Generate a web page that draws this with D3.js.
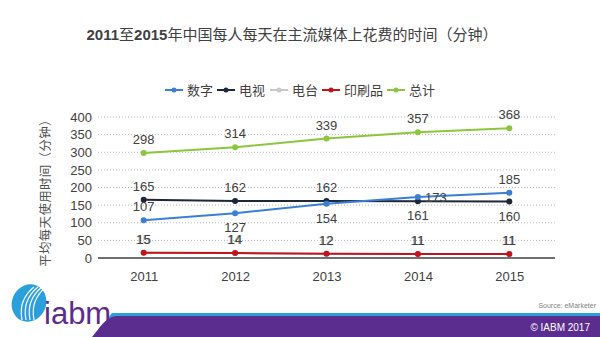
<!DOCTYPE html>
<html>
<head>
<meta charset="utf-8">
<script src="https://cdn.jsdelivr.net/npm/d3@7"></script>
<style>
  body { margin: 0; background: #fff; }
  svg { display: block; font-family: "Liberation Sans", Arial, "Noto Sans CJK SC", sans-serif; }
</style>
</head>
<body>
<svg id="chart" width="600" height="337"></svg>
<script>
const years = ["2011", "2012", "2013", "2014", "2015"];
const digital = [107, 127, 154, 173, 185];
const tv = [165, 162, 162, 161, 160];
const radio = [15, 14, 12, 11, 11];
const print = [15, 14, 12, 11, 11];
const total = [298, 314, 339, 357, 368];
const yTicks = [0, 50, 100, 150, 200, 250, 300, 350, 400];

// label placement per point: "up", "down", "right"
const series = [
    { name: "电台", values: radio, color: "#c8c8c8", labelColor: "#9a9a9a", pos: ["up", "up", "up", "up", "up"] },
    { name: "印刷品", values: print, color: "#c0141e", labelColor: "#404040", pos: ["up", "up", "up", "up", "up"] },
    { name: "电视", values: tv, color: "#1c2838", labelColor: "#404040", pos: ["up", "up", "up", "down", "down"] },
    { name: "数字", values: digital, color: "#3a7fd6", labelColor: "#404040", pos: ["up", "down", "down", "right", "up"] },
    { name: "总计", values: total, color: "#8cc63f", labelColor: "#404040", pos: ["up", "up", "up", "up", "up"] }
];
const legendOrder = ["数字", "电视", "电台", "印刷品", "总计"];

const svg = d3.select("#chart");
const margin = { left: 98, right: 45, top: 117, bottom: 79 };
const width = 600 - margin.left - margin.right;
const height = 337 - margin.top - margin.bottom;

const title = svg.append("text")
    .attr("x", 292).attr("y", 40)
    .attr("text-anchor", "middle")
    .attr("font-size", 15)
    .attr("fill", "#404040");
[["2011", "bold"], ["至", "normal"], ["2015", "bold"], ["年中国每人每天在主流媒体上花费的时间（分钟）", "normal"]]
    .forEach(([t, w]) => title.append("tspan").attr("font-weight", w).text(t));

const g = svg.append("g").attr("transform", `translate(${margin.left},${margin.top})`);

const x = d3.scalePoint().domain(years).range([0, width]).padding(0.5);
const y = d3.scaleLinear().domain([0, 400]).range([height, 0]);

g.selectAll(".grid").data(yTicks.filter(t => t > 0)).enter().append("line")
    .attr("x1", 0).attr("x2", width)
    .attr("y1", d => y(d)).attr("y2", d => y(d))
    .attr("stroke", "#b8b8b8").attr("stroke-width", 1)
    .attr("stroke-dasharray", "1,2");

const yAxis = g.append("g").call(d3.axisLeft(y).tickValues(yTicks).tickSize(0).tickPadding(6));
yAxis.select(".domain").remove();
yAxis.selectAll("text").attr("font-size", 13).attr("fill", "#404040");

const xAxis = g.append("g").attr("transform", `translate(0,${height})`)
    .call(d3.axisBottom(x).tickSize(0).tickPadding(14));
xAxis.select(".domain").attr("stroke", "#404040").attr("stroke-width", 1.5).attr("d", `M0,0H${width}`);
xAxis.selectAll("text").attr("font-size", 13).attr("fill", "#404040");

svg.append("text")
    .attr("transform", "translate(50,190) rotate(-90)")
    .attr("text-anchor", "middle")
    .attr("font-size", 12.5).attr("fill", "#505050")
    .attr("letter-spacing", 0.3)
    .attr("font-family", "Noto Sans CJK SC")
    .text("平均每天使用时间（分钟）");

const line = d3.line().x((d, i) => x(years[i])).y(d => y(d));

series.forEach(s => {
    g.append("path").attr("d", line(s.values))
        .attr("fill", "none").attr("stroke", s.color).attr("stroke-width", 2);
    g.selectAll(null).data(s.values).enter().append("circle")
        .attr("cx", (d, i) => x(years[i])).attr("cy", d => y(d))
        .attr("r", 3).attr("fill", s.color);
});

series.forEach(s => {
    g.selectAll(null).data(s.values).enter().append("text")
        .attr("x", (d, i) => x(years[i]) + (s.pos[i] === "right" ? 18 : 0) + (s.name === "电台" ? -1 : 0))
        .attr("y", (d, i) => {
            const p = s.pos[i];
            if (p === "up") return y(d) - 9;
            if (p === "down") return y(d) + 19;
            return y(d) + 5;
        })
        .attr("text-anchor", "middle")
        .attr("font-size", 13).attr("fill", s.labelColor)
        .text(d => d);
});

// legend
const legendX = [165, 217, 270, 322, 387];
const legend = svg.append("g").attr("transform", "translate(0,90)");
legendOrder.forEach((name, i) => {
    const s = series.find(d => d.name === name);
    const lg = legend.append("g").attr("transform", `translate(${legendX[i]},0)`);
    lg.append("line").attr("x1", 0).attr("x2", 18).attr("stroke", s.color).attr("stroke-width", 2);
    lg.append("circle").attr("cx", 9).attr("r", 2.5).attr("fill", s.color);
    lg.append("text").attr("x", 22).attr("y", 5)
        .attr("font-size", 13).attr("fill", "#404040")
        .attr("font-family", "Noto Sans CJK SC")
        .text(name);
});

// footer
svg.append("path")
    .attr("d", "M112,313 L600,313 L600,318 L108,318 Z")
    .attr("fill", "#2a9fdc");
svg.append("path")
    .attr("d", "M92,337 C100,328 104,318 116,316 L600,316 L600,337 Z")
    .attr("fill", "#5b2d8e");
svg.append("text")
    .attr("x", 590).attr("y", 331)
    .attr("text-anchor", "end")
    .attr("font-size", 10).attr("fill", "#fff")
    .text("© IABM 2017");
svg.append("text")
    .attr("x", 596).attr("y", 308)
    .attr("text-anchor", "end")
    .attr("font-size", 7).attr("fill", "#7f7f7f")
    .text("Source: eMarketer");

// logo
const logo = svg.append("g");
logo.append("ellipse").attr("cx", 29).attr("cy", 303).attr("rx", 17).attr("ry", 19)
    .attr("transform", "rotate(25,29,303)")
    .attr("fill", "#2a9fdc");
[0, 4, 8, 12].forEach(d => {
    logo.append("path")
        .attr("d", `M${22 + d},${320} Q${18 + d},${300} ${34 + d},${287}`)
        .attr("fill", "none").attr("stroke", "#fff").attr("stroke-width", 1.2);
});
logo.append("text")
    .attr("x", 44).attr("y", 324)
    .attr("font-size", 31).attr("fill", "#5b2d8e")
    .attr("font-family", "Liberation Sans")
    .text("iabm");
</script>
</body>
</html>
